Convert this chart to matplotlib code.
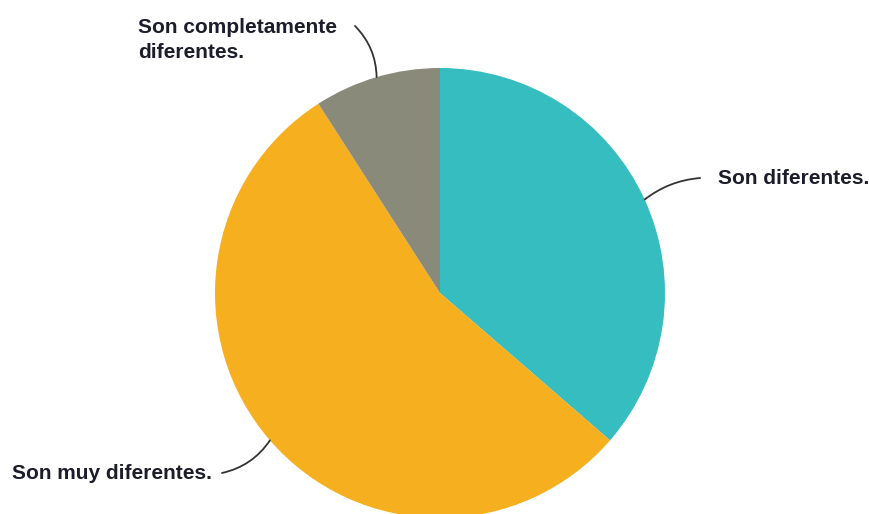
import numpy as np
import matplotlib.pyplot as plt

# Respuestas (número de personas por opción)
etiquetas = ["Son diferentes.", "Son muy diferentes.", "Son completamente\ndiferentes."]
valores = [4, 6, 1]
colores = ["#35BDBF", "#F6AF1E", "#8A8A7A"]

# posición del texto y del final de la línea guía (coordenadas de datos)
pos_texto = [(1.236, 0.511), (-1.902, -0.804), (-1.342, 1.124)]
pos_linea = [(1.156, 0.511), (-0.969, -0.80), (-0.378, 1.187)]
curvas = [0.15, 0.2, -0.2]

fig = plt.figure(figsize=(8.7, 5.14), dpi=100)
ax = fig.add_axes([215 / 870, -4 / 514, 450 / 870, 450 / 514])

wedges, _ = ax.pie(valores, colors=colores, startangle=90, counterclock=False,
                   radius=1, wedgeprops=dict(linewidth=0))
ax.set_xlim(-1, 1)
ax.set_ylim(-1, 1)

for w, txt, pt, pl, rad in zip(wedges, etiquetas, pos_texto, pos_linea, curvas):
    ang = np.deg2rad((w.theta1 + w.theta2) / 2)
    borde = (np.cos(ang), np.sin(ang))
    ax.annotate("", xy=borde, xytext=pl, annotation_clip=False,
                arrowprops=dict(arrowstyle="-", color="#333333", lw=1.3,
                                shrinkA=0, shrinkB=0,
                                connectionstyle="arc3,rad=%s" % rad))
    ax.text(pt[0], pt[1], txt, ha="left", va="center", fontsize=15,
            fontweight="bold", family="Liberation Sans", color="#1c1c2a",
            linespacing=1.45, clip_on=False)

fig.savefig("out.png", dpi=100)
